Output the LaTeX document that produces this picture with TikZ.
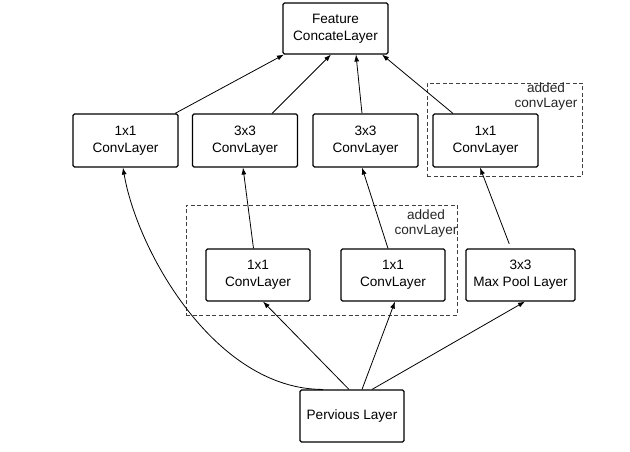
\documentclass[tikz,border=0pt]{standalone}
\usepackage{fontspec}
\setmainfont{Liberation Sans}
\usetikzlibrary{arrows.meta}
\tikzset{
  layerbox/.style={draw=black, line width=1.1pt, rounded corners=1.5pt, inner sep=0pt,
    align=center, font=\fontsize{13.6}{17}\selectfont, minimum height=52pt},
  groupbox/.style={draw=black!75, line width=0.9pt, dash pattern=on 4pt off 2.5pt, inner sep=0pt},
  grouplabel/.style={align=center, inner sep=0pt, font=\fontsize{13.6}{15.5}\selectfont, text=black!85},
  conn/.style={line width=0.8pt, -{Latex[length=7pt,width=5pt]}}
}
\begin{document}
\begin{tikzpicture}[x=1pt,y=1pt]
\useasboundingbox (0,0) rectangle (630,452);
% dashed groups
\node[groupbox, minimum width=155pt, minimum height=93pt] (grpA) at (504.5,322.5) {};
\node[groupbox, minimum width=271pt, minimum height=110pt] (grpB) at (321.5,192) {};
\node[grouplabel] (labA) at (546,355.5) {added\\convLayer};
\node[grouplabel] (labB) at (426,228.5) {added\\convLayer};
% layers
\node[layerbox, minimum width=105pt, minimum height=51pt] (feat) at (335.5,423.5) {Feature\\ConcateLayer};
\node[layerbox, minimum width=105pt, minimum height=53pt] (c1) at (125.5,311.5) {1x1\\ConvLayer};
\node[layerbox, minimum width=105pt, minimum height=53pt] (c2) at (245,311.5) {3x3\\ConvLayer};
\node[layerbox, minimum width=105pt, minimum height=53pt] (c3) at (365.5,311.5) {3x3\\ConvLayer};
\node[layerbox, minimum width=105pt, minimum height=53pt] (c4) at (485.5,311.5) {1x1\\ConvLayer};
\node[layerbox, minimum width=104pt] (r1) at (258,177) {1x1\\ConvLayer};
\node[layerbox, minimum width=104pt] (r2) at (393,177) {1x1\\ConvLayer};
\node[layerbox, minimum width=109pt] (pool) at (520.5,177) {3x3\\Max Pool Layer};
\node[layerbox, minimum width=104pt] (prev) at (352,36) {Pervious Layer};
% connectors from previous layer
\draw[conn] ([xshift=-29pt]prev.north) .. controls +(-108,0) and +(14,-83) .. ([xshift=-2.5pt]c1.south);
\draw[conn] ([xshift=-3pt]prev.north) -- ([xshift=5pt]r1.south);
\draw[conn] ([xshift=10pt]prev.north) -- ([xshift=2pt]r2.south);
\draw[conn] ([xshift=20pt]prev.north) -- ([xshift=4.5pt]pool.south);
% middle connectors
\draw[conn] ([xshift=-4.5pt]r1.north) -- ([xshift=-2pt]c2.south);
\draw[conn] ([xshift=-5pt]r2.north) -- ([xshift=-3.5pt]c3.south);
\draw[conn, shorten <=5pt] ([xshift=-9.5pt]pool.north) -- ([xshift=-5.5pt]c4.south);
% to concat layer
\draw[conn] ([xshift=49.5pt]c1.north) -- ([xshift=-51.5pt]feat.south);
\draw[conn] ([xshift=27pt]c2.north) -- ([xshift=-4.5pt]feat.south);
\draw[conn] ([xshift=-3.5pt]c3.north) -- ([xshift=20.5pt]feat.south);
\draw[conn] ([xshift=-32.5pt]c4.north) -- ([xshift=46.5pt]feat.south);
\end{tikzpicture}
\end{document}
